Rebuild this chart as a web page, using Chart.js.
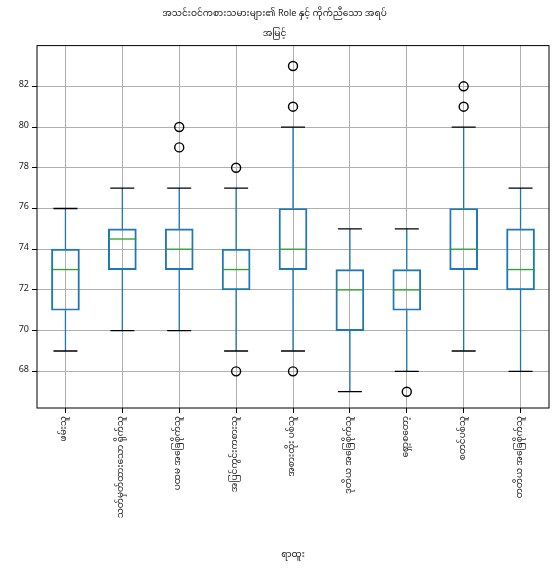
<!DOCTYPE html>
<html><head><meta charset="utf-8">
<script src="https://cdn.jsdelivr.net/npm/chart.js@4/dist/chart.umd.min.js"></script>
<style>html,body{margin:0;padding:0;background:#fff}#c{width:559px;height:573px}</style>
</head><body><div id="c"><canvas id="cv" width="559" height="573"></canvas></div>
<script>
const categories = ["ဖမ်းသူ","သတ်မှတ်ထားသော ရိုက်သူ","ပထမ အခြေစိုက်သူ","အပြင်ကွင်းကစားသူ","အစားထိုး ပစ်သူ","ဒုတိယ အခြေစိုက်သူ","ရှော့စတော့","စတင်ပစ်သူ","တတိယ အခြေစိုက်သူ"];
const whiskerLow = [69,70,70,69,69,67,68,69,68];
const q1 =        [71,73,73,72,73,70,71,73,72];
const medians =   [73,74.5,74,73,74,72,72,74,73];
const q3 =        [74,75,75,74,76,73,73,76,75];
const whiskerHigh=[76,77,77,77,80,75,75,80,77];
const outliers = [[],[],[80,79],[78,68],[83,81,68],[],[67],[82,81],[]];
const yTicks = [68,70,72,74,76,78,80,82];
const titleLines = ["အသင်းဝင်ကစားသမားများ၏ Role နှင့် ကိုက်ညီသော အရပ်","အမြင့်"];
const xTitle = "ရာထူး";

const FONT = "'Noto Sans Myanmar','Noto Sans','DejaVu Sans',sans-serif";
const boxPlugin = {
  id:'boxdraw',
  afterDatasetsDraw(chart){
    const ctx=chart.ctx, xs=chart.scales.x, ys=chart.scales.y;
    const half=14, cap=12;
    ctx.save();
    categories.forEach((c,i)=>{
      const x=xs.getPixelForValue(i);
      ctx.lineWidth=1.3;
      ctx.strokeStyle='#1f77b4';
      ctx.beginPath();
      ctx.moveTo(x,ys.getPixelForValue(q1[i]));ctx.lineTo(x,ys.getPixelForValue(whiskerLow[i]));
      ctx.moveTo(x,ys.getPixelForValue(q3[i]));ctx.lineTo(x,ys.getPixelForValue(whiskerHigh[i]));
      ctx.stroke();
      ctx.strokeStyle='#000';
      ctx.beginPath();
      [whiskerLow[i],whiskerHigh[i]].forEach(v=>{const y=ys.getPixelForValue(v);ctx.moveTo(x-cap,y);ctx.lineTo(x+cap,y);});
      ctx.stroke();
      ctx.strokeStyle='#2ca02c';
      ctx.beginPath();
      const ym=ys.getPixelForValue(medians[i]);ctx.moveTo(x-half,ym);ctx.lineTo(x+half,ym);ctx.stroke();
    });
    ctx.restore();
  }
};
const bgPlugin={id:'bg',beforeDraw(chart){const c=chart.ctx;c.save();c.fillStyle='#fff';c.fillRect(0,0,chart.width,chart.height);c.restore();},
  afterDraw(chart){const a=chart.chartArea,c=chart.ctx;c.save();c.strokeStyle='#000';c.lineWidth=1;c.strokeRect(a.left,a.top,a.right-a.left,a.bottom-a.top);c.restore();}};

const outlierPts=[];outliers.forEach((arr,i)=>arr.forEach(v=>outlierPts.push({x:categories[i],y:v})));

new Chart(document.getElementById('cv'),{
  data:{labels:categories,datasets:[
    {type:'bar',data:categories.map((c,i)=>[q1[i],q3[i]]),backgroundColor:'rgba(0,0,0,0)',borderColor:'#1f77b4',borderWidth:1.3,borderSkipped:false,barThickness:28},
    {type:'scatter',data:outlierPts,pointStyle:'circle',pointRadius:4.5,borderColor:'#000',borderWidth:1.4,backgroundColor:'rgba(0,0,0,0)'}
  ]},
  options:{responsive:false,animation:false,
    layout:{padding:{left:0,right:10,top:0,bottom:8}},
    plugins:{legend:{display:false},tooltip:{enabled:false},
      title:{display:true,text:titleLines,font:{family:FONT,size:9,weight:'normal',lineHeight:2.2},color:'#222',padding:{top:5,bottom:1}}},
    scales:{
      x:{type:'category',offset:true,grid:{color:'#b0b0b0',offset:false,tickLength:5,tickColor:'#000'},border:{display:false},
        ticks:{minRotation:90,maxRotation:90,autoSkip:false,font:{family:FONT,size:9},color:'#222'},
        title:{display:true,text:xTitle,font:{family:FONT,size:9},color:'#222'},
        afterFit(s){s.height=157;}},
      y:{min:66.2,max:84,grid:{color:'#b0b0b0',tickLength:5,tickColor:'#000'},border:{display:false},
        afterBuildTicks(s){s.ticks=yTicks.map(v=>({value:v}));},
        ticks:{font:{family:FONT,size:9},color:'#222'},
        afterFit(s){s.width=37;}}
    }
  },
  plugins:[bgPlugin,boxPlugin]
});
</script></body></html>
